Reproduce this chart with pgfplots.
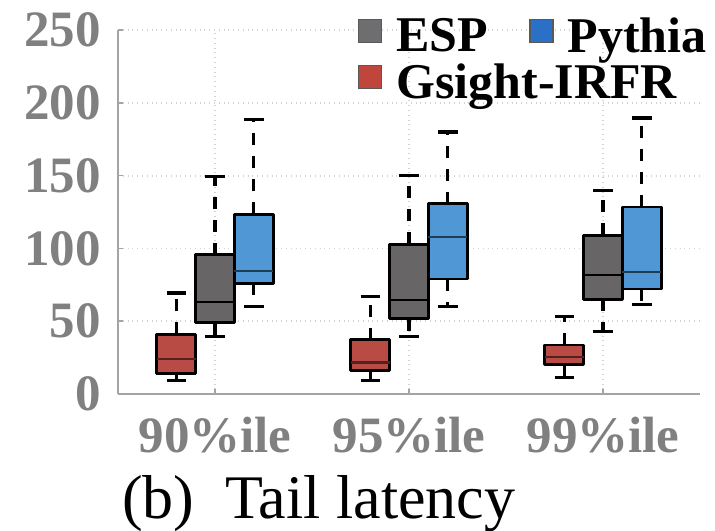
\documentclass[border=0pt]{standalone}
\usepackage{fontspec}
\setmainfont{Liberation Serif}
\usepackage{pgfplots}
\pgfplotsset{compat=1.18}

\definecolor{cEsp}{HTML}{676565}
\definecolor{cPyth}{HTML}{5097D5}
\definecolor{cGs}{HTML}{B94B45}
\definecolor{cEspL}{HTML}{6E6E70}
\definecolor{cPythL}{HTML}{2A70C6}
\definecolor{cGsL}{HTML}{C0453D}
\definecolor{cTick}{HTML}{808080}
\definecolor{cAxis}{HTML}{A4A4A4}
\definecolor{cGrid}{HTML}{D2D2D2}

\pgfplotsset{
  boxsty/.style={forget plot, mark=none, draw=black, line width=1.4pt, line join=round},
  medsty/.style={forget plot, mark=none, line width=1.1pt, unbounded coords=jump},
  whisk/.style={forget plot, mark=none, black, line width=1.6pt,
                dash pattern=on 6pt off 5.5pt, unbounded coords=jump},
  caps/.style={forget plot, mark=none, black, line width=1.6pt, solid,
               unbounded coords=jump},
}

\begin{document}
\begin{tikzpicture}
\begin{axis}[
  name=ax,
  scale only axis, width=291pt, height=182pt,
  xmin=0.5, xmax=3.5, ymin=0, ymax=250,
  xtick={1,2,3}, xticklabels={90\%ile,95\%ile,99\%ile},
  ytick={0,50,...,250},
  axis x line*=bottom, axis y line*=left,
  axis line style={cAxis, line width=1pt},
  tick align=inside, major tick length=2.5pt,
  tick style={cAxis, line width=0.8pt},
  xmajorgrids, ymajorgrids,
  grid style={cGrid, dotted, line width=0.9pt},
  tick label style={font=\fontsize{25.5}{30}\selectfont\bfseries, text=cTick},
  /pgf/number format/assume math mode=true,
  yticklabel style={xshift=-5pt},
  xticklabel style={yshift=-8pt},
  legend columns=2,
  legend cell align=left,
  legend image code/.code={\draw[#1] (0pt,-3pt) rectangle (11.5pt,8.5pt);},
  legend style={at={(0.412,1.045)}, anchor=north west, draw=none, fill=none,
    inner sep=0pt,
    font=\fontsize{25}{30}\selectfont\bfseries,
    /tikz/every odd column/.append style={column sep=5pt},
    /tikz/every even column/.append style={column sep=2.5pt}},
]
\addlegendimage{fill=cEspL, draw=gray!70!black, line width=0.6pt}
\addlegendentry{\makebox[62pt][l]{ESP}}
\addlegendimage{fill=cPythL, draw=gray!70!black, line width=0.6pt}
\addlegendentry{Pythia}
\addlegendimage{fill=cGsL, draw=gray!70!black, line width=0.6pt}
\addlegendentry{\makebox[62pt][l]{Gsight-IRFR}}

% ---- Gsight-IRFR (positions 0.8, 1.8, 2.8)
\addplot[boxsty, fill=cGs] coordinates {(0.7,14.2) (0.9,14.2) (0.9,40.9) (0.7,40.9)} -- cycle;
\addplot[boxsty, fill=cGs] coordinates {(1.7,16.4) (1.9,16.4) (1.9,37.4) (1.7,37.4)} -- cycle;
\addplot[boxsty, fill=cGs] coordinates {(2.7,20.5) (2.9,20.5) (2.9,33.6) (2.7,33.6)} -- cycle;
\addplot[medsty, cGs!45!black] coordinates {
  (0.7,24.2) (0.9,24.2) (0.9,nan) (1.7,21.7) (1.9,21.7) (1.9,nan) (2.7,25.3) (2.9,25.3)};
\addplot[whisk] coordinates {
  (0.8,40.9) (0.8,69.4) (0.8,nan) (0.8,14.2) (0.8,9.1) (0.8,nan)
  (1.8,37.4) (1.8,67.1) (1.8,nan) (1.8,16.4) (1.8,9.1) (1.8,nan)
  (2.8,33.6) (2.8,53.0) (2.8,nan) (2.8,20.5) (2.8,11.4)};
\addplot[caps] coordinates {
  (0.75,69.4) (0.85,69.4) (0.85,nan) (0.75,9.1) (0.85,9.1) (0.85,nan)
  (1.75,67.1) (1.85,67.1) (1.85,nan) (1.75,9.1) (1.85,9.1) (1.85,nan)
  (2.75,53.0) (2.85,53.0) (2.85,nan) (2.75,11.4) (2.85,11.4)};

% ---- ESP (positions 1, 2, 3)
\addplot[boxsty, fill=cEsp] coordinates {(0.9,48.9) (1.1,48.9) (1.1,95.7) (0.9,95.7)} -- cycle;
\addplot[boxsty, fill=cEsp] coordinates {(1.9,51.8) (2.1,51.8) (2.1,102.7) (1.9,102.7)} -- cycle;
\addplot[boxsty, fill=cEsp] coordinates {(2.9,65.0) (3.1,65.0) (3.1,108.9) (2.9,108.9)} -- cycle;
\addplot[medsty, black] coordinates {
  (0.9,63.0) (1.1,63.0) (1.1,nan) (1.9,64.4) (2.1,64.4) (2.1,nan) (2.9,81.7) (3.1,81.7)};
\addplot[whisk] coordinates {
  (1,95.7) (1,149.3) (1,nan) (1,48.9) (1,39.7) (1,nan)
  (2,102.7) (2,149.8) (2,nan) (2,51.8) (2,39.7) (2,nan)
  (3,108.9) (3,139.7) (3,nan) (3,65.0) (3,42.9)};
\addplot[caps] coordinates {
  (0.95,149.3) (1.05,149.3) (1.05,nan) (0.95,39.7) (1.05,39.7) (1.05,nan)
  (1.95,149.8) (2.05,149.8) (2.05,nan) (1.95,39.7) (2.05,39.7) (2.05,nan)
  (2.95,139.7) (3.05,139.7) (3.05,nan) (2.95,42.9) (3.05,42.9)};

% ---- Pythia (positions 1.2, 2.2, 3.2)
\addplot[boxsty, fill=cPyth] coordinates {(1.1,76.0) (1.3,76.0) (1.3,123.3) (1.1,123.3)} -- cycle;
\addplot[boxsty, fill=cPyth] coordinates {(2.1,79.0) (2.3,79.0) (2.3,130.6) (2.1,130.6)} -- cycle;
\addplot[boxsty, fill=cPyth] coordinates {(3.1,72.1) (3.3,72.1) (3.3,128.5) (3.1,128.5)} -- cycle;
\addplot[medsty, cPyth!40!black] coordinates {
  (1.1,84.5) (1.3,84.5) (1.3,nan) (2.1,107.8) (2.3,107.8) (2.3,nan) (3.1,83.8) (3.3,83.8)};
\addplot[whisk] coordinates {
  (1.2,123.3) (1.2,188.4) (1.2,nan) (1.2,76.0) (1.2,60.0) (1.2,nan)
  (2.2,130.6) (2.2,179.9) (2.2,nan) (2.2,79.0) (2.2,60.0) (2.2,nan)
  (3.2,128.5) (3.2,189.5) (3.2,nan) (3.2,72.1) (3.2,61.6)};
\addplot[caps] coordinates {
  (1.15,188.4) (1.25,188.4) (1.25,nan) (1.15,60.0) (1.25,60.0) (1.25,nan)
  (2.15,179.9) (2.25,179.9) (2.25,nan) (2.15,60.0) (2.25,60.0) (2.25,nan)
  (3.15,189.5) (3.25,189.5) (3.25,nan) (3.15,61.6) (3.25,61.6)};
\end{axis}
\node[anchor=base west, font=\fontsize{31}{36}\selectfont]
  at ([xshift=-1.5pt,yshift=-62pt]ax.south west) {(b)\ \ Tail latency};
\pgfresetboundingbox
\path (ax.south west) ++(-59pt,-68pt) rectangle ++(357.5pt,265pt);
\end{tikzpicture}
\end{document}
